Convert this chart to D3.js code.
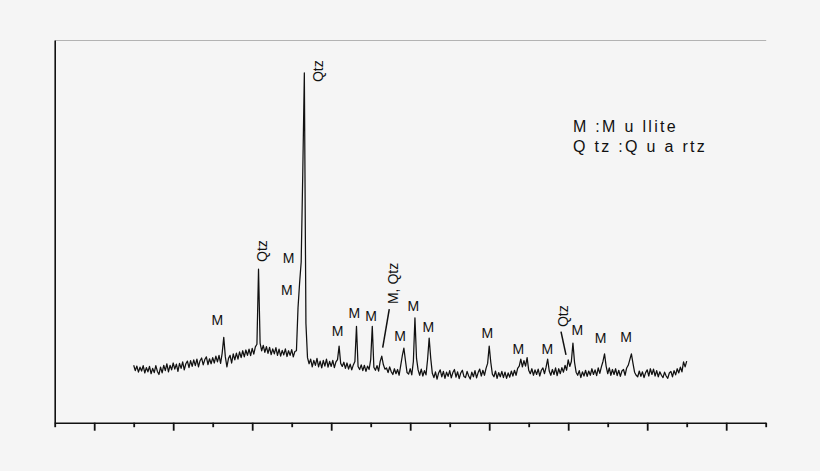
<!DOCTYPE html>
<html>
<head>
<meta charset="utf-8">
<script src="https://cdn.jsdelivr.net/npm/d3@7"></script>
<style>
  body { margin: 0; background: #f5f5f5; }
  svg { display: block; }
</style>
</head>
<body>
<div id="chart"></div>
<script>
// XRD pattern, 2-theta from 15 to 85 deg, sampled every 0.2 deg
let thetaStart = 15
let thetaStep = 0.2

// intensity (a.u.), one row per degree: .0 .2 .4 .6 .8
let counts = [
  150, 136, 148, 132, 145,
  135, 149, 130, 144, 133,
  147, 128, 142, 131, 149,
  134, 126, 145, 130, 150,
  136, 154, 133, 150, 138,
  156, 140, 153, 134, 155,
  142, 159, 138, 154, 161,
  144, 162, 147, 164, 149,
  166, 146, 162, 169, 151,
  165, 172, 152, 167, 154,
  170, 156, 174, 159, 176,
  155, 182, 223, 172, 146,
  168, 176, 156, 180, 164,
  182, 166, 185, 170, 188,
  172, 190, 176, 192, 175,
  194, 179, 198, 205, 401,
  208, 188, 202, 184, 199,
  181, 197, 178, 193, 180,
  196, 176, 192, 174, 189,
  177, 193, 173, 188, 176,
  191, 172, 186, 188, 300,
  365, 420, 650, 914, 260,
  170, 154, 166, 146, 163,
  150, 168, 146, 161, 143,
  163, 148, 166, 145, 160,
  147, 163, 144, 159, 165,
  200, 155, 147, 158, 142,
  156, 140, 153, 138, 151,
  160, 252, 147, 139, 151,
  136, 150, 134, 148, 139,
  165, 252, 145, 137, 149,
  135, 160, 174, 152, 140,
  143, 131, 146, 133, 126,
  141, 128, 139, 124, 150,
  175, 195, 162, 131, 127,
  141, 125, 160, 274, 168,
  138, 124, 140, 122, 136,
  125, 165, 221, 168, 129,
  118, 133, 114, 130, 138,
  120, 134, 116, 132, 121,
  136, 117, 131, 139, 119,
  133, 115, 130, 137, 121,
  118, 134, 122, 114, 132,
  120, 136, 117, 131, 140,
  122, 137, 124, 142, 155,
  200, 158, 127, 120, 135,
  116, 131, 120, 134, 118,
  132, 116, 130, 119, 135,
  122, 137, 124, 142, 148,
  166, 146, 162, 148, 170,
  137, 128, 141, 124, 138,
  126, 140, 122, 137, 143,
  128, 145, 166, 135, 124,
  139, 126, 143, 123, 141,
  128, 144, 132, 150, 137,
  164, 147, 160, 208, 158,
  132, 124, 136, 118, 133,
  122, 137, 121, 135, 124,
  141, 126, 138, 123, 143,
  129, 146, 160, 180, 148,
  128, 143, 124, 139, 126,
  141, 123, 137, 121, 135,
  139, 124, 143, 150, 165,
  180, 155, 132, 124, 120,
  135, 121, 133, 118, 131,
  138, 122, 141, 126, 140,
  122, 136, 120, 133, 124,
  118, 132, 122, 116, 130,
  134, 120, 136, 125, 141,
  130, 145, 133, 159, 146,
  161
]

let majorTicks = [10, 20, 30, 40, 50, 60, 70, 80, 90]
let minorTicks = [5, 15, 25, 35, 45, 55, 65, 75, 85, 95]

// "M" peak labels: [2theta, intensity] of the label baseline centre
let mullitePeaks = [
  [25.6, 255], [34.6, 417], [34.4, 334], [40.82, 227], [42.92, 274],
  [45.04, 267], [48.71, 214], [50.39, 293], [52.29, 238], [59.76, 221],
  [63.68, 180], [67.35, 180], [71.15, 229], [74.11, 209], [77.32, 210]
]

// rotated labels: text, 2theta, intensity where the text starts
let rotatedText = ["Qtz", "Qtz", "M, Qtz", "Qtz"]
let rotatedTheta = [31.87, 38.96, 48.46, 69.97]
let rotatedCounts = [420, 890, 310, 250]

// leader lines from a small peak up to its label
let leaders = [
  [[46.52, 196], [47.35, 297]],
  [[69.72, 177], [69.09, 238]]
]

let legendLines = ["M :M u llite", "Q tz :Q u a rtz"]

function generateChart() {
  let width = 820
  let height = 471
  let font = "'Liberation Sans', Arial, sans-serif"

  let data = counts.map((c, i) => ({ theta: thetaStart + i * thetaStep, counts: c }))

  let x = d3.scaleLinear().domain([5, 95]).range([54.7, 765.7])
  let y = d3.scaleLinear().domain([0, 1000]).range([422.7, 40])

  const svg = d3.create("svg")
    .attr("width", width)
    .attr("height", height)
    .attr("viewBox", [0, 0, width, height])
    .style("background", "#f5f5f5")

  // top frame line, grey
  svg.append("g")
    .attr("transform", `translate(0,${y(1000)})`)
    .call(d3.axisTop(x).tickValues([]).tickSizeOuter(0))
    .call(g => g.select(".domain").attr("stroke", "#b3b3b3").attr("stroke-width", 1.2))

  // left axis, no ticks
  svg.append("g")
    .attr("transform", `translate(${x(5)},0)`)
    .call(d3.axisLeft(y).tickValues([]).tickSizeOuter(0))
    .call(g => g.select(".domain").attr("stroke", "#111").attr("stroke-width", 1.6))

  // bottom axis: minor then major ticks, no labels
  svg.append("g")
    .attr("transform", `translate(0,${y(0)})`)
    .call(d3.axisBottom(x).tickValues(minorTicks).tickSize(4.5).tickSizeOuter(0).tickFormat(""))
    .call(g => g.selectAll(".tick line").attr("stroke", "#111").attr("stroke-width", 1.8))
    .call(g => g.select(".domain").attr("stroke", "#111").attr("stroke-width", 1.6))

  svg.append("g")
    .attr("transform", `translate(0,${y(0)})`)
    .call(d3.axisBottom(x).tickValues(majorTicks).tickSize(8).tickSizeOuter(0).tickFormat(""))
    .call(g => g.selectAll(".tick line").attr("stroke", "#111").attr("stroke-width", 1.8))
    .call(g => g.select(".domain").remove())

  let line = d3.line()
    .x(d => x(d.theta))
    .y(d => y(d.counts))

  svg.append("path")
    .datum(data)
    .attr("fill", "none")
    .attr("stroke", "#111")
    .attr("stroke-width", 1.25)
    .attr("stroke-linejoin", "round")
    .attr("d", line)

  svg.append("g")
    .selectAll("line")
    .data(leaders)
    .join("line")
    .attr("x1", d => x(d[0][0]))
    .attr("y1", d => y(d[0][1]))
    .attr("x2", d => x(d[1][0]))
    .attr("y2", d => y(d[1][1]))
    .attr("stroke", "#111")
    .attr("stroke-width", 1.5)

  svg.append("g")
    .attr("font-family", font)
    .attr("font-size", 14)
    .attr("fill", "#111")
    .attr("text-anchor", "middle")
    .selectAll("text")
    .data(mullitePeaks)
    .join("text")
    .attr("x", d => x(d[0]))
    .attr("y", d => y(d[1]))
    .text("M")

  svg.append("g")
    .attr("font-family", font)
    .attr("font-size", 14)
    .attr("fill", "#111")
    .selectAll("text")
    .data(rotatedText)
    .join("text")
    .attr("transform", (d, i) => `translate(${x(rotatedTheta[i])},${y(rotatedCounts[i])}) rotate(-90)`)
    .text(d => d)

  svg.append("g")
    .attr("font-family", font)
    .attr("font-size", 16)
    .attr("letter-spacing", 2.3)
    .attr("fill", "#111")
    .selectAll("text")
    .data(legendLines)
    .join("text")
    .attr("x", 573)
    .attr("y", (d, i) => 132.3 + i * 20)
    .text(d => d)

  return svg.node()
}

d3.select("#chart").append(generateChart)
</script>
</body>
</html>
